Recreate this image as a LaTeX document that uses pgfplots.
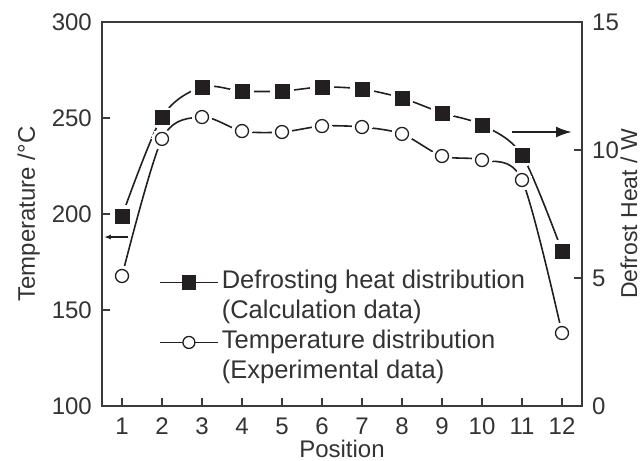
\documentclass[border=0pt]{standalone}
\usepackage{fontspec}
\setmainfont{Liberation Sans}
\usepackage{pgfplots}
\usepackage{pgfplotstable}
\pgfplotsset{compat=1.18}
\usetikzlibrary{arrows.meta}
\definecolor{ink}{HTML}{231F20}
\definecolor{txt}{HTML}{333333}
\definecolor{frame}{HTML}{3D3939}

\pgfplotstableread{
pos W T
1 7.42 167.7
2 11.29 239.1
3 12.46 250.5
4 12.30 243.2
5 12.30 242.7
6 12.46 245.8
7 12.38 245.3
8 12.03 241.7
9 11.45 230.2
10 10.98 228.1
11 9.80 217.7
12 6.05 138.0
}\data

\begin{document}
\begin{tikzpicture}[font=\fontsize{24bp}{28bp}\selectfont]
\begin{axis}[name=ax, scale only axis, width=480bp, height=384bp,
  xmin=0.5, xmax=12.5, ymin=100, ymax=300,
  xtick={1,...,12}, ytick={100,150,200,250,300},
  xtick pos=bottom, ytick pos=left, tick align=inside,
  major tick length=8bp,
  axis line style={frame, line width=1.5bp},
  tick style={frame, line width=1.2bp},
  /pgf/number format/assume math mode=true,
  tick label style={txt},
  x tick label style={anchor=base, yshift=-28bp, inner sep=0pt},
  y tick label style={anchor=east, xshift=-10bp, inner sep=0pt},
  xlabel={Position},
  xlabel style={at={(axis description cs:0.5,-0.1330)}, anchor=base, inner sep=0pt, txt},
  ylabel={Temperature /\textdegree C},
  ylabel style={at={(axis description cs:-0.1396,0.5)}, anchor=base, inner sep=0pt, txt},
  legend cell align=left,
  legend image code/.code={\draw[mark repeat=2,mark phase=2,#1] plot coordinates {(0bp,0bp) (29bp,0bp) (58bp,0bp)};},
  legend style={at={(axis description cs:0.1188,0.353)}, anchor=north west, draw=none, fill=none,
    inner sep=0pt, outer sep=0pt, row sep=6bp, column sep=3bp,
    font=\fontsize{25.5bp}{28bp}\selectfont,
    nodes={inner sep=0pt, text height=18bp, text depth=6bp, txt}},
]
\addplot[ink, line width=1.6bp, smooth, forget plot] table[x=pos,y=T]{\data};
\addplot[ink, line width=1.6bp, smooth, forget plot] table[x=pos, y expr=100+\thisrow{W}*40/3]{\data};
\addplot[white, only marks, mark=*, mark size=10bp, mark options={draw=white, fill=white, line width=0pt}, forget plot] table[x=pos,y=T]{\data};
\addplot[white, only marks, mark=*, mark size=11.5bp, mark options={draw=white, fill=white, line width=0pt}, forget plot] table[x=pos, y expr=100+\thisrow{W}*40/3]{\data};
\addplot[ink, only marks, mark=*, mark size=6.5bp, mark options={draw=ink, fill=white, line width=1.3bp}, forget plot] table[x=pos,y=T]{\data};
\addplot[ink, only marks, mark=square*, mark size=7bp, mark options={draw=ink, fill=ink}, forget plot] table[x=pos, y expr=100+\thisrow{W}*40/3]{\data};

\addlegendimage{ink, line width=1.8bp, mark=square*, mark size=6.5bp, mark options={fill=ink}}
\addlegendentry{Defrosting heat distribution}
\addlegendimage{empty legend}
\addlegendentry{(Calculation data)}
\addlegendimage{ink, line width=1.8bp, mark=*, mark size=6bp, mark options={fill=white, line width=1.3bp}}
\addlegendentry{Temperature distribution}
\addlegendimage{empty legend}
\addlegendentry{(Experimental data)}

\draw[ink, line width=1.3bp, -{Latex[length=7bp,width=5bp]}] (axis cs:1.15,188) -- (axis cs:0.55,188);
\draw[ink, line width=2.2bp, -{Latex[length=16bp,width=11bp]}] (axis cs:10.75,242.7) -- (axis cs:12.25,242.7);
\end{axis}
\begin{axis}[scale only axis, width=480bp, height=384bp,
  xmin=0.5, xmax=12.5, ymin=0, ymax=15,
  axis x line=none, axis y line*=right,
  ytick={0,5,10,15}, tick align=inside,
  major tick length=8bp,
  axis line style={frame, line width=1.5bp, -},
  tick style={frame, line width=1.2bp},
  /pgf/number format/assume math mode=true,
  tick label style={txt},
  y tick label style={anchor=west, xshift=10bp, inner sep=0pt},
  ylabel={Defrost Heat / W},
  ylabel style={at={(axis description cs:1.1146,0.5)}, anchor=base, inner sep=0pt, txt, font=\fontsize{23bp}{28bp}\selectfont},
]
\addplot[draw=none] coordinates {(1,0)};
\end{axis}
\pgfresetboundingbox
\path[use as bounding box] ([xshift=-102bp,yshift=-55bp]ax.south west) rectangle ([xshift=59bp,yshift=22bp]ax.north east);
\end{tikzpicture}
\end{document}
